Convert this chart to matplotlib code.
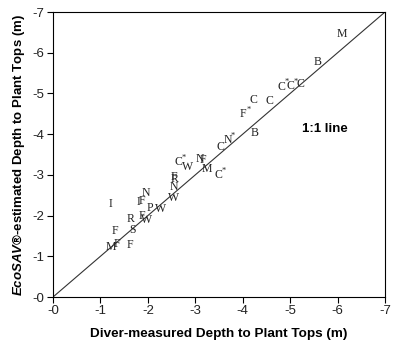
import matplotlib
matplotlib.use('Agg')
import matplotlib.pyplot as plt

plt.rcParams['mathtext.fontset'] = 'custom'
plt.rcParams['mathtext.rm'] = 'Liberation Sans:bold'
plt.rcParams['mathtext.bf'] = 'Liberation Sans:bold'
plt.rcParams['mathtext.bfit'] = 'Liberation Sans:italic:bold'
plt.rcParams['mathtext.it'] = 'Liberation Sans:italic:bold'

# diver-measured depth (x), EcoSAV estimate (y), site letter
diver = [-6.08, -5.58, -4.81, -5.00, -5.21, -4.23, -4.56, -4.01, -4.25, -3.52, -3.68,
         -2.64, -2.84, -3.09, -3.17, -3.24, -3.49, -2.55, -2.57, -2.54, -2.54, -2.27,
         -2.05, -1.87, -1.98, -1.64, -1.68, -1.31, -1.22, -1.34, -1.62, -1.22, -1.80,
         -1.87, -1.96]
ecosav = [-6.45, -5.78, -5.17, -5.18, -5.23, -4.84, -4.82, -4.49, -4.02, -3.69, -3.86,
          -3.31, -3.20, -3.39, -3.37, -3.14, -3.00, -2.96, -2.89, -2.71, -2.42, -2.16,
          -2.19, -2.00, -1.89, -1.92, -1.64, -1.63, -1.24, -1.29, -1.28, -2.28, -2.33,
          -2.37, -2.55]
sites = ['M', 'B', 'C*', 'C*', 'C', 'C', 'C', 'F*', 'B', 'C', 'N*',
         'C*', 'W', 'N', 'F', 'M', 'C*', 'F', 'R', 'N', 'W', 'W',
         'P', 'F', 'W', 'R', 'S', 'F', 'M', 'F', 'F', 'I', 'I',
         'F', 'N']
ticks = [0, -1, -2, -3, -4, -5, -6, -7]
tick_labels = ['-0', '-1', '-2', '-3', '-4', '-5', '-6', '-7']

fig = plt.figure(figsize=(4.0, 3.54), dpi=100)
ax = fig.add_axes([0.1325, 0.161, 0.83, 0.805])

ax.plot([0, -7], [0, -7], color='#333333', lw=0.8)

for x, y, s in zip(diver, ecosav, sites):
    ax.text(x, y, s[0], family='Liberation Serif', fontsize=8.5, color='#222222',
            ha='center', va='center')
    if s.endswith('*'):
        ax.annotate('*', (x, y), xytext=(4, 3), textcoords='offset points',
                    family='Liberation Serif', fontsize=6, color='#222222',
                    ha='center', va='center')

ax.text(-5.74, -4.13, '1:1 line', fontsize=9.5, fontweight='bold',
        family='Liberation Sans', ha='center', va='center')

ax.set_xlim(0, -7)
ax.set_ylim(0, -7)
ax.set_xticks(ticks)
ax.set_yticks(ticks)
ax.set_xticklabels(tick_labels, family='Liberation Sans', fontsize=9.5, color='#222222')
ax.set_yticklabels(tick_labels, family='Liberation Sans', fontsize=9.5, color='#222222')
ax.tick_params(direction='out', length=4, width=0.8, top=False, right=False, pad=2)
for sp in ax.spines.values():
    sp.set_linewidth(0.8)

ax.set_xlabel('Diver-measured Depth to Plant Tops (m)', family='Liberation Sans',
              fontsize=9.7, fontweight='bold', labelpad=8)
ax.set_ylabel(r'$\mathbfit{EcoSAV}$®-estimated Depth to Plant Tops (m)',
              family='Liberation Sans', fontsize=9.5, fontweight='bold', labelpad=4)

fig.savefig('out.png', dpi=100)
